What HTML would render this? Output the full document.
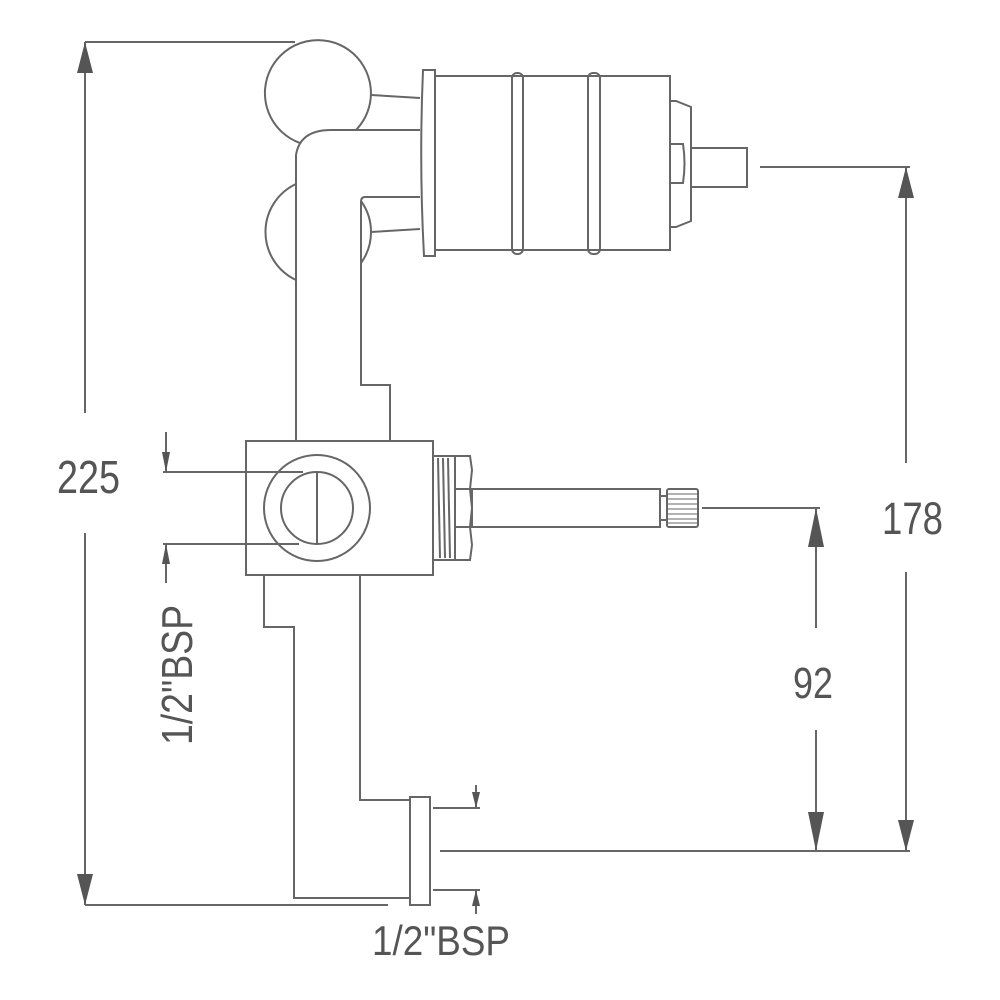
<!DOCTYPE html>
<html><head><meta charset="utf-8"><style>html,body{margin:0;padding:0;background:#fff}svg{display:block}</style></head>
<body>
<svg width="1000" height="1000" viewBox="0 0 1000 1000" xmlns="http://www.w3.org/2000/svg">
<g fill="none" stroke="#666" stroke-width="2" stroke-linejoin="miter">
<!-- balls -->
<path d="M300,143 A53,53 0 1 1 356,130"/>
<path d="M296,184 A53,53 0 0 0 296,280"/>
<path d="M361,201 A53,53 0 0 1 361,263"/>
<line x1="371" y1="95" x2="420" y2="98"/>
<line x1="371" y1="232" x2="420" y2="229"/>
<!-- L pipe top -->
<path d="M296,440 L296,155 Q300,130 331,130 L420,130"/>
<path d="M420,197 L365,197 Q361,197 361,202 L361,385 L390,385 L390,441"/>
<!-- flange -->
<path d="M423,70 L435,70 L435,256 L424,256 Q419,163 423,70 Z"/>
<!-- body -->
<rect x="435" y="76" width="235" height="174"/>
<rect x="512" y="73" width="11" height="181" rx="5"/>
<rect x="588" y="73" width="12" height="181" rx="5"/>
<path d="M670,101 L676,101 L691,107 L691,221 L676,227 L670,227"/>
<path d="M670,144 L683,144 Q686,163 683,183 L670,183"/>
<rect x="691" y="148" width="56" height="39"/>
<!-- block -->
<rect x="246" y="441" width="187" height="134"/>
<circle cx="317" cy="508" r="53"/>
<circle cx="317" cy="508" r="36"/>
<line x1="317" y1="472" x2="317" y2="544"/>
<!-- thread -->
<rect x="433" y="456" width="22" height="104"/>
<line x1="438" y1="458" x2="440" y2="558"/><line x1="443" y1="458" x2="445" y2="558"/><line x1="448" y1="458" x2="450" y2="558"/>
<path d="M455,456 L470,456 L472,470 L470,489 L455,489 M470,489 L472,508 L470,527 L455,527 M470,527 L472,545 L470,560 L455,560"/>
<rect x="472" y="489" width="188" height="38"/>
<path d="M660,496 L667,496 M660,520 L667,520"/>
<rect x="667" y="489" width="31" height="38" rx="2"/>
<g stroke-width="1"><line x1="667" y1="494" x2="698" y2="494"/><line x1="667" y1="499" x2="698" y2="499"/><line x1="667" y1="504" x2="698" y2="504"/><line x1="667" y1="509" x2="698" y2="509"/><line x1="667" y1="514" x2="698" y2="514"/><line x1="667" y1="519" x2="698" y2="519"/><line x1="667" y1="523" x2="698" y2="523"/></g>
<!-- bottom pipe -->
<path d="M264,575 L264,627 L294,627 L294,898 L410,898"/>
<path d="M360,575 L360,800 L410,800"/>
<rect x="410" y="797" width="20" height="108"/>
<!-- dimension lines -->
<line x1="85" y1="42" x2="295" y2="42"/>
<line x1="85" y1="905" x2="388" y2="905"/>
<line x1="85" y1="42" x2="85" y2="413"/>
<line x1="85" y1="533" x2="85" y2="905"/>
<line x1="760" y1="167" x2="910" y2="167"/>
<line x1="906" y1="167" x2="906" y2="463"/>
<line x1="906" y1="572" x2="906" y2="851"/>
<line x1="440" y1="851" x2="910" y2="851"/>
<line x1="702" y1="508" x2="820" y2="508"/>
<line x1="816" y1="508" x2="816" y2="628"/>
<line x1="816" y1="730" x2="816" y2="851"/>
<line x1="163" y1="472" x2="303" y2="472"/>
<line x1="163" y1="544" x2="299" y2="544"/>
<line x1="166" y1="432" x2="166" y2="472"/>
<line x1="166" y1="544" x2="166" y2="583"/>
<line x1="433" y1="808" x2="480" y2="808"/>
<line x1="433" y1="890" x2="480" y2="890"/>
<line x1="476" y1="785" x2="476" y2="808"/>
<line x1="476" y1="890" x2="476" y2="914"/>
</g>
<g fill="#555">
<polygon points="85,42 77,73 93,73"/>
<polygon points="85,905 77,874 93,874"/>
<polygon points="906,167 898,198 914,198"/>
<polygon points="906,851 898,820 914,820"/>
<polygon points="816,508 808,547 824,547"/>
<polygon points="816,851 808,812 824,812"/>
<polygon points="166,472 162,452 170,452"/>
<polygon points="166,544 162,564 170,564"/>
<polygon points="476,808 472,792 480,792"/>
<polygon points="476,890 472,906 480,906"/>
</g>
<g fill="#555" font-family="Liberation Sans, sans-serif">
<text x="57" y="493" font-size="46" textLength="63" lengthAdjust="spacingAndGlyphs">225</text>
<text x="882" y="534" font-size="45" textLength="61" lengthAdjust="spacingAndGlyphs">178</text>
<text x="793" y="698" font-size="44" textLength="40" lengthAdjust="spacingAndGlyphs">92</text>
<text x="372" y="955" font-size="42" textLength="138" lengthAdjust="spacingAndGlyphs">1/2"BSP</text>
<text transform="translate(192,745) rotate(-90)" font-size="44" textLength="140" lengthAdjust="spacingAndGlyphs">1/2"BSP</text>
</g>
</svg>
</body></html>
